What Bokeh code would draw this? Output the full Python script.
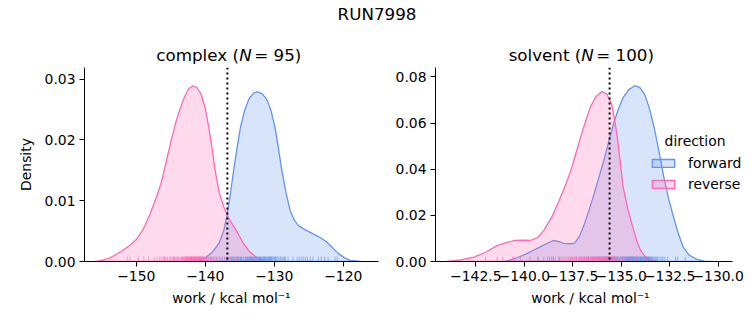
from bokeh.plotting import figure
from bokeh.models import Range1d, FixedTicker, Span, Label, Legend, LegendItem
from bokeh.layouts import column, row
from bokeh.embed import file_html
from bokeh.resources import INLINE

# ---------------- data ----------------
suptitle = "RUN7998"
phases = ["complex", "solvent"]
n_samples = [95, 100]
directions = ["forward", "reverse"]
legend_title = "direction"
xlabel = "work / kcal mol\u207b\u00b9"
ylabel = "Density"

# complex: KDE curves
cx_fwd_x = [-142.0, -141.0, -140.0, -139.0, -138.0, -137.3, -136.9, -136.4, -135.9, -135.4, -134.9,
            -134.3, -133.7, -133.0, -132.4, -131.8, -131.1, -130.5, -129.9, -129.4, -128.9, -128.3,
            -127.7, -127.1, -126.5, -125.5, -124.3, -123.3, -122.4, -121.5, -120.7, -119.8, -119.0, -117.5]
cx_fwd_y = [0.0, 0.0002, 0.0006, 0.0015, 0.0030, 0.0052, 0.0073, 0.0108, 0.0149, 0.0186, 0.0221,
            0.0248, 0.0267, 0.0277, 0.0279, 0.0276, 0.0267, 0.0249, 0.0221, 0.0186, 0.0149, 0.0113,
            0.0084, 0.0068, 0.0059, 0.0052, 0.0045, 0.0039, 0.0032, 0.0022, 0.0013, 0.0006, 0.0002, 0.0]
cx_rev_x = [-156.0, -155.0, -154.0, -153.0, -152.0, -151.0, -150.0, -149.0, -148.0, -147.0, -146.3,
            -145.5, -145.0, -144.3, -143.6, -143.0, -142.4, -141.8, -141.2, -140.6, -140.0, -139.5,
            -139.0, -138.6, -138.0, -137.3, -136.5, -135.4, -134.5, -133.5, -132.5, -131.5, -131.0]
cx_rev_y = [0.0, 0.0002, 0.0005, 0.0011, 0.0018, 0.0026, 0.0036, 0.0053, 0.0078, 0.0108, 0.0133,
            0.0172, 0.0196, 0.0228, 0.0253, 0.0271, 0.0284, 0.0289, 0.0286, 0.0275, 0.0252, 0.0221,
            0.0185, 0.0152, 0.0114, 0.0089, 0.0069, 0.0049, 0.0030, 0.0015, 0.0006, 0.0001, 0.0]

# solvent: KDE curves
sv_fwd_x = [-141.0, -140.5, -139.9, -139.5, -139.2, -138.8, -138.5, -138.2, -137.96, -137.6, -137.4,
            -137.15, -136.9, -136.65, -136.4, -136.15, -135.9, -135.65, -135.4, -135.15, -134.9, -134.6,
            -134.3, -134.05, -133.8, -133.55, -133.3, -133.05, -132.8, -132.55, -132.3, -132.05, -131.8,
            -131.5, -131.1, -130.7, -130.3]
sv_fwd_y = [0.0, 0.0012, 0.0033, 0.0050, 0.0062, 0.0080, 0.0091, 0.0086, 0.0079, 0.0077, 0.0080,
            0.0110, 0.0163, 0.0225, 0.0293, 0.0365, 0.0437, 0.0518, 0.0596, 0.0660, 0.0711, 0.0745,
            0.0762, 0.0755, 0.0726, 0.0665, 0.0581, 0.0475, 0.0365, 0.0270, 0.0192, 0.0120, 0.0062,
            0.0028, 0.0009, 0.0002, 0.0]
sv_rev_x = [-144.0, -143.3, -142.6, -142.0, -141.4, -140.9, -140.5, -140.1, -139.7, -139.3, -139.0,
            -138.6, -138.2, -137.9, -137.6, -137.35, -137.1, -136.85, -136.6, -136.3, -136.0, -135.75,
            -135.5, -135.35, -135.2, -135.05, -134.9, -134.65, -134.4, -134.2, -134.0, -133.75, -133.5, -133.1]
sv_rev_y = [0.0, 0.0007, 0.0019, 0.0040, 0.0069, 0.0083, 0.0091, 0.0093, 0.0091, 0.0105, 0.0134,
            0.0190, 0.0264, 0.0325, 0.0394, 0.0465, 0.0538, 0.0605, 0.0668, 0.0715, 0.0736, 0.0727,
            0.0683, 0.0620, 0.0538, 0.0430, 0.0322, 0.0225, 0.0148, 0.0090, 0.0048, 0.0020, 0.0006, 0.0]

# rug samples
cx_fwd_rug = [-140.5, -139.2, -138.4, -137.9, -137.5, -137.2, -136.9, -136.6, -136.4, -136.2, -136.1,
              -136.0, -135.8, -135.6, -135.4, -135.3, -135.2, -135.0, -134.9, -134.8, -134.7, -134.5,
              -134.4, -134.2, -134.1, -134.0, -133.9, -133.8, -133.7, -133.6, -133.5, -133.4, -133.35,
              -133.3, -133.2, -133.1, -133.0, -132.9, -132.8, -132.7, -132.6, -132.5, -132.4, -132.3,
              -132.2, -132.1, -132.05, -132.0, -131.9, -131.8, -131.7, -131.6, -131.5, -131.45, -131.4,
              -131.3, -131.2, -131.1, -131.0, -130.9, -130.8, -130.7, -130.65, -130.6, -130.5, -130.4,
              -130.3, -130.2, -130.0, -129.9, -129.8, -129.7, -129.5, -129.3, -129.1, -128.9, -128.7,
              -128.5, -128.4, -128.0, -127.3, -126.7, -126.4, -126.1, -125.8, -125.5, -125.2, -124.8,
              -124.4, -123.6, -123.2, -122.7, -122.2, -121.2, -120.9]
cx_rev_rug = [-151.3, -150.9, -149.7, -148.9, -148.2, -147.4, -147.0, -146.6, -146.3, -146.0, -145.9,
              -145.7, -145.5, -145.2, -145.0, -144.8, -144.6, -144.5, -144.4, -144.2, -144.0, -143.9,
              -143.7, -143.5, -143.4, -143.3, -143.2, -143.1, -143.0, -142.9, -142.8, -142.75, -142.7,
              -142.6, -142.55, -142.5, -142.4, -142.35, -142.3, -142.2, -142.15, -142.1, -142.05, -142.0,
              -141.95, -141.9, -141.85, -141.8, -141.7, -141.65, -141.6, -141.55, -141.5, -141.45, -141.4,
              -141.35, -141.3, -141.25, -141.2, -141.1, -141.05, -141.0, -140.95, -140.9, -140.85, -140.8,
              -140.75, -140.7, -140.65, -140.6, -140.5, -140.45, -140.4, -140.3, -140.2, -140.15, -140.0,
              -139.9, -139.8, -139.7, -139.6, -139.5, -139.3, -139.1, -138.9, -138.8, -138.6, -138.3,
              -138.0, -137.6, -137.2, -136.8, -136.3, -135.9, -135.4]
sv_fwd_rug = [-139.3, -138.7, -138.5, -138.2, -137.3, -136.9, -136.7, -136.5, -136.2, -136.1, -136.0,
              -135.9, -135.85, -135.8, -135.75, -135.7, -135.65, -135.6, -135.5, -135.45, -135.4, -135.35,
              -135.3, -135.25, -135.2, -135.15, -135.1, -135.05, -135.0, -134.95, -134.92, -134.9, -134.85,
              -134.82, -134.8, -134.75, -134.72, -134.7, -134.65, -134.62, -134.6, -134.58, -134.55, -134.52,
              -134.5, -134.48, -134.45, -134.42, -134.4, -134.38, -134.35, -134.32, -134.3, -134.28, -134.25,
              -134.22, -134.2, -134.18, -134.15, -134.12, -134.1, -134.05, -134.02, -134.0, -133.98, -133.95,
              -133.92, -133.9, -133.85, -133.82, -133.8, -133.78, -133.75, -133.72, -133.7, -133.65, -133.62,
              -133.6, -133.58, -133.55, -133.52, -133.5, -133.45, -133.42, -133.4, -133.35, -133.3, -133.25,
              -133.2, -133.15, -133.1, -133.0, -132.9, -132.85, -132.75, -132.6, -132.2, -132.1, -131.7,
              -134.68]
sv_rev_rug = [-142.0, -141.4, -141.1, -140.6, -140.5, -140.2, -139.7, -139.3, -139.0, -138.8, -138.6,
              -138.5, -138.4, -138.2, -138.1, -138.0, -137.9, -137.8, -137.7, -137.65, -137.6, -137.55,
              -137.5, -137.45, -137.4, -137.35, -137.3, -137.2, -137.15, -137.1, -137.05, -137.0, -136.95,
              -136.9, -136.85, -136.8, -136.78, -136.75, -136.72, -136.7, -136.65, -136.6, -136.58, -136.55,
              -136.5, -136.48, -136.45, -136.42, -136.4, -136.38, -136.35, -136.32, -136.3, -136.28, -136.25,
              -136.22, -136.2, -136.18, -136.15, -136.12, -136.1, -136.08, -136.05, -136.02, -136.0, -135.98,
              -135.95, -135.92, -135.9, -135.88, -135.85, -135.82, -135.8, -135.78, -135.75, -135.72, -135.7,
              -135.68, -135.65, -135.62, -135.6, -135.58, -135.55, -135.52, -135.5, -135.45, -135.42, -135.4,
              -135.35, -135.3, -135.25, -135.2, -135.1, -135.0, -134.95, -134.9, -134.8, -134.5, -134.2,
              -133.7]

# vertical reference lines (dotted)
cx_ref = -136.8
sv_ref = -135.6

# axis ranges and ticks
cx_xrange = (-157.5, -114.9)
cx_yrange = (0.0, 0.0319)
sv_xrange = (-144.58, -129.26)
sv_yrange = (0.0, 0.0841)
cx_xticks = [-150, -140, -130, -120]
cx_yticks = [0.0, 0.01, 0.02, 0.03]
sv_xticks = [-142.5, -140.0, -137.5, -135.0, -132.5, -130.0]
sv_yticks = [0.0, 0.02, 0.04, 0.06, 0.08]

# ---------------- styling / layout ----------------
FWD = "#6495ED"
REV = "#FF69B4"
FONT = "DejaVu Sans"
TICK_FS = "13.9px"
TITLE_FS = "16.7px"
HEAD_H = 64          # height of the header strip holding the titles
FRAME_H = 194


def fmt_x(v, nd):
    s = f"{abs(v):.{nd}f}"
    return ("\u2212" + s) if v < 0 else s


def make_panel(xr, yr, xt, yt, xnd, curves, rugs, ref, frame_w, left, right, show_ylabel, extra_px=0):
    px_per_unit = frame_w / (xr[1] - xr[0])
    x_end = xr[1] + extra_px / px_per_unit
    p = figure(frame_width=frame_w + extra_px, frame_height=FRAME_H,
               x_range=Range1d(xr[0], x_end), y_range=Range1d(*yr),
               toolbar_location=None, output_backend="svg",
               min_border_left=left, min_border_right=right,
               min_border_top=67 - HEAD_H, min_border_bottom=325 - 67 - FRAME_H)
    p.outline_line_color = None
    p.grid.visible = False
    for ax in (p.xaxis[0], p.yaxis[0]):
        ax.axis_line_color = "black"
        ax.axis_line_width = 1
        ax.major_tick_line_color = "black"
        ax.major_tick_out = 5
        ax.major_tick_in = 0
        ax.minor_tick_line_color = None
        ax.major_label_text_font = FONT
        ax.major_label_text_font_size = TICK_FS
        ax.major_label_text_color = "black"
        ax.major_label_standoff = 4
        ax.axis_label_text_font = FONT
        ax.axis_label_text_font_size = TICK_FS
        ax.axis_label_text_font_style = "normal"
        ax.axis_label_text_color = "black"
    p.xaxis.bounds = xr
    p.xaxis.ticker = FixedTicker(ticks=xt)
    p.yaxis.ticker = FixedTicker(ticks=yt)
    p.xaxis.major_label_overrides = {t: fmt_x(t, xnd) for t in xt}
    p.yaxis.major_label_overrides = {t: f"{t:.2f}" for t in yt}
    p.xaxis.axis_label = xlabel
    p.xaxis.axis_label_standoff = 6
    if show_ylabel:
        p.yaxis.axis_label = ylabel
        p.yaxis.axis_label_standoff = 8

    rends = []
    for (cx, cy), col in zip(curves, (FWD, REV)):
        r = p.patch(cx, cy, fill_color=col, fill_alpha=0.25, line_color=col, line_width=1.3)
        rends.append(r)
    rug_h = 0.025 * (yr[1] - yr[0])
    for vals, col in zip(rugs, (FWD, REV)):
        p.segment(x0=vals, y0=[0.0] * len(vals), x1=vals, y1=[rug_h] * len(vals),
                  line_color=col, line_width=1, line_alpha=0.65)
    p.add_layout(Span(location=ref, dimension="height", line_color="black",
                      line_dash="2 3", line_width=2))
    return p, rends


p1, r1 = make_panel(cx_xrange, cx_yrange, cx_xticks, cx_yticks, 0,
                    [(cx_fwd_x, cx_fwd_y), (cx_rev_x, cx_rev_y)],
                    [cx_fwd_rug, cx_rev_rug], cx_ref, 294, 84, 10, True)

# right panel: frame widened by 13 px (axis line bounded to the data range) so the legend fits
p2, r2 = make_panel(sv_xrange, sv_yrange, sv_xticks, sv_yticks, 1,
                    [(sv_fwd_x, sv_fwd_y), (sv_rev_x, sv_rev_y)],
                    [sv_fwd_rug, sv_rev_rug], sv_ref, 297, 47, 8, False, extra_px=13)

legend = Legend(items=[LegendItem(label=directions[0], renderers=[r2[0]]),
                       LegendItem(label=directions[1], renderers=[r2[1]])],
                location=(214, 67), padding=0, margin=0, spacing=0,
                border_line_color=None, background_fill_alpha=0,
                glyph_width=28, glyph_height=10, label_height=21, label_standoff=11,
                label_text_font=FONT, label_text_font_size=TICK_FS, label_text_color="black")
p2.add_layout(legend)
p2.add_layout(Label(x=259.5, y=120.3, x_units="screen", y_units="screen", text=legend_title,
                    text_font=FONT, text_font_size=TICK_FS, text_color="black",
                    text_align="center", text_baseline="middle"))

# header strip: super title + panel titles (N in italics)
p0 = figure(width=753, height=HEAD_H, x_range=Range1d(0, 753), y_range=Range1d(0, HEAD_H),
            toolbar_location=None, output_backend="svg", min_border=0)
p0.axis.visible = False
p0.grid.visible = False
p0.outline_line_color = None
p0.add_layout(Label(x=376.5, y=HEAD_H - 13, text=suptitle, text_font=FONT, text_font_size=TITLE_FS,
                    text_color="black", text_align="center", text_baseline="middle"))

ADV = {"c": 1126, "o": 1253, "m": 1995, "p": 1300, "l": 569, "e": 1260, "x": 1212, " ": 651,
       "(": 799, ")": 799, "s": 1067, "v": 1212, "n": 1298, "t": 803, "=": 1716, "N": 1532}


def text_w(s, size=16.7):
    return sum(ADV.get(ch, 1303) for ch in s) * size / 2048.0


def add_panel_title(center_x, name, n):
    a, b, c = f"{name} (", "N", f" = {n})"
    gap = 2.5  # extra room after the slanted N
    wa, wb, wc = text_w(a), text_w(b) + gap, text_w(c)
    x0 = center_x - (wa + wb + wc) / 2.0
    y = HEAD_H - 54
    for txt, xx, style in ((a, x0, "normal"), (b, x0 + wa, "italic"), (c, x0 + wa + wb, "normal")):
        p0.add_layout(Label(x=xx, y=y, text=txt, text_font=FONT, text_font_size=TITLE_FS,
                            text_font_style=style, text_color="black",
                            text_align="left", text_baseline="middle"))


add_panel_title(84 + 294 / 2.0, phases[0], n_samples[0])
add_panel_title(435 + 297 / 2.0, phases[1], n_samples[1])

layout = column(p0, row(p1, p2, spacing=0), spacing=0)
open("out.html", "w").write(file_html(layout, INLINE))
